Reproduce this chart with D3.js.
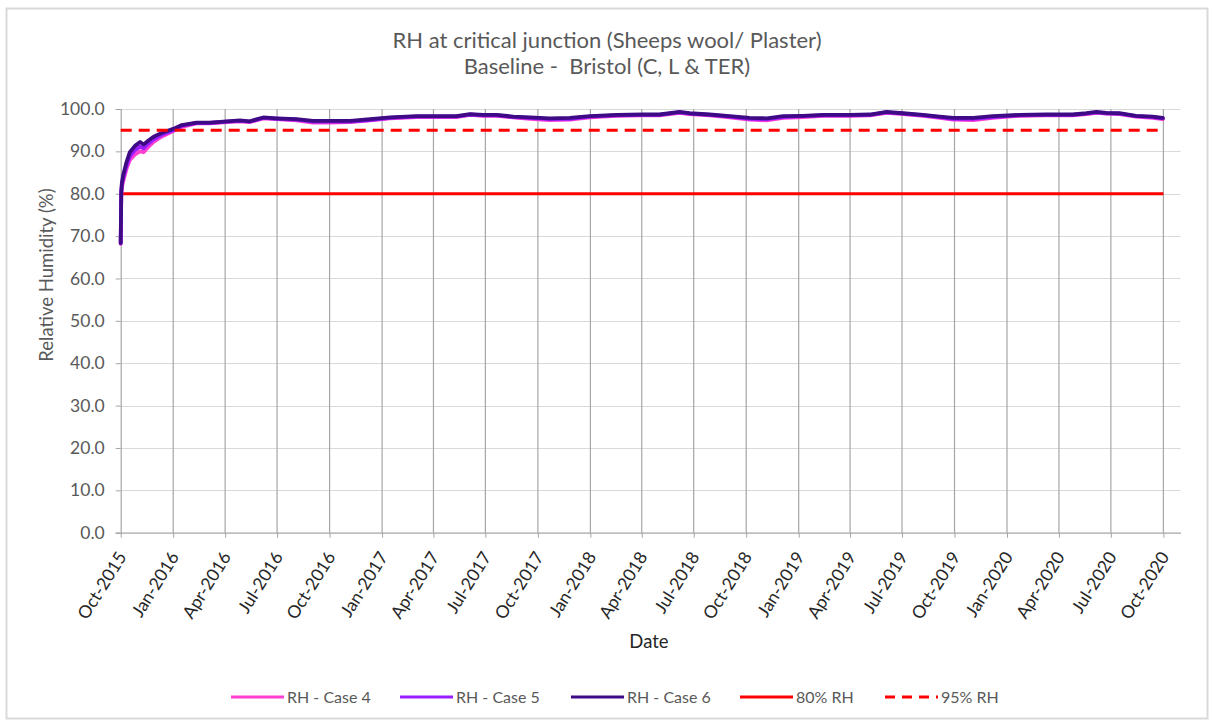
<!DOCTYPE html>
<html>
<head>
<meta charset="utf-8">
<script src="https://cdn.jsdelivr.net/npm/d3@7"></script>
<style>
  html, body { margin: 0; padding: 0; background: #fff; }
  svg { display: block; font-family: Lato, "Open Sans", sans-serif; }
</style>
</head>
<body>
<svg id="chart" width="1212" height="722"></svg>
<script>
// ---------- DATA ----------
const titleLines = ["RH at critical junction (Sheeps wool/ Plaster)", "Baseline -  Bristol (C, L & TER)"];
const startDate = "2015-10-01";
const endDate = "2020-10-31";
// days since 1 Oct 2015
const dayOffsets = [0, 1, 2, 4.5, 10, 16, 25, 34, 40, 48, 57, 66, 75, 92, 107, 120, 133, 156, 186, 209, 226, 250, 273, 308, 337, 367, 402, 437, 472, 518, 553, 588, 612, 635, 659, 688, 717, 752, 787, 822, 869, 915, 944, 979, 997, 1032, 1067, 1102, 1132, 1161, 1195, 1231, 1277, 1313, 1342, 1371, 1406, 1435, 1459, 1494, 1528, 1575, 1622, 1668, 1692, 1710, 1727, 1750, 1779, 1808, 1826];
const rhCase4 = [68.2, 79.8, 81.5, 83.0, 85.8, 88.0, 89.3, 90.0, 89.8, 91.0, 92.2, 93.0, 93.7, 94.8, 95.8, 96.2, 96.6, 96.6, 96.9, 97.1, 96.9, 97.8, 97.6, 97.3, 96.8, 96.8, 96.9, 97.3, 97.8, 98.1, 98.1, 98.1, 98.6, 98.4, 98.4, 98.0, 97.7, 97.4, 97.5, 98.0, 98.4, 98.5, 98.5, 99.1, 98.8, 98.5, 98.0, 97.5, 97.3, 97.9, 98.1, 98.4, 98.4, 98.5, 99.1, 98.8, 98.4, 97.9, 97.5, 97.4, 97.9, 98.4, 98.5, 98.5, 98.8, 99.1, 98.9, 98.8, 98.2, 97.9, 97.6];
const rhCase5 = [68.3, 80.2, 82.0, 83.8, 86.6, 88.9, 90.3, 91.1, 90.7, 91.8, 92.8, 93.5, 94.1, 95.0, 96.0, 96.4, 96.7, 96.7, 97.0, 97.2, 97.0, 97.9, 97.7, 97.5, 97.0, 97.0, 97.0, 97.4, 97.9, 98.2, 98.2, 98.2, 98.7, 98.5, 98.5, 98.1, 97.9, 97.6, 97.7, 98.2, 98.5, 98.6, 98.6, 99.2, 98.9, 98.6, 98.2, 97.7, 97.6, 98.1, 98.3, 98.5, 98.5, 98.6, 99.2, 98.9, 98.5, 98.1, 97.7, 97.7, 98.1, 98.5, 98.6, 98.6, 98.9, 99.2, 99.0, 98.9, 98.3, 98.1, 97.8];
const rhCase6 = [68.4, 80.5, 82.5, 84.5, 87.4, 89.8, 91.3, 92.2, 91.6, 92.5, 93.4, 94.0, 94.5, 95.3, 96.2, 96.5, 96.8, 96.8, 97.1, 97.3, 97.1, 98.0, 97.8, 97.6, 97.2, 97.2, 97.2, 97.6, 98.0, 98.3, 98.3, 98.3, 98.8, 98.6, 98.6, 98.2, 98.0, 97.8, 97.9, 98.3, 98.6, 98.7, 98.7, 99.3, 99.0, 98.7, 98.3, 97.9, 97.8, 98.3, 98.4, 98.6, 98.6, 98.7, 99.3, 99.0, 98.6, 98.2, 97.9, 97.9, 98.3, 98.6, 98.7, 98.7, 99.0, 99.3, 99.1, 99.0, 98.4, 98.2, 97.9];
const limit80 = 80;
const limit95 = 95;
const yTickValues = [0, 10, 20, 30, 40, 50, 60, 70, 80, 90, 100];
const xTickLabels = ["Oct-2015","Jan-2016","Apr-2016","Jul-2016","Oct-2016","Jan-2017","Apr-2017","Jul-2017","Oct-2017","Jan-2018","Apr-2018","Jul-2018","Oct-2018","Jan-2019","Apr-2019","Jul-2019","Oct-2019","Jan-2020","Apr-2020","Jul-2020","Oct-2020"];
const seriesNames = ["RH - Case 4", "RH - Case 5", "RH - Case 6", "80% RH", "95% RH"];
const seriesColors = ["#ff3fd2", "#9a1cff", "#3f0a86", "#ff0000", "#ff0000"];

// ---------- LAYOUT ----------
const svg = d3.select("#chart");
const plot = { left: 120.7, right: 1180.5, top: 109, bottom: 532.7 };
const parse = d3.timeParse("%Y-%m-%d");
const t0 = parse(startDate);

const x = d3.scaleTime().domain([t0, parse(endDate)]).range([plot.left, plot.right]);
const y = d3.scaleLinear().domain([0, 100]).range([plot.bottom, plot.top]);

// outer border
svg.append("rect").attr("x", 6.5).attr("y", 8.5).attr("width", 1201).attr("height", 710)
  .attr("fill", "#fff").attr("stroke", "#d9d9d9").attr("stroke-width", 2);

// title
svg.append("text").attr("x", 607).attr("y", 48).attr("text-anchor", "middle")
  .attr("font-size", 22).attr("fill", "#595959").text(titleLines[0]);
svg.append("text").attr("x", 607).attr("y", 74).attr("text-anchor", "middle")
  .attr("font-size", 22).attr("fill", "#595959").style("white-space", "pre").text(titleLines[1]);

// horizontal gridlines
svg.append("g").selectAll("line").data(yTickValues.filter(v => v > 0)).join("line")
  .attr("x1", plot.left).attr("x2", plot.right)
  .attr("y1", d => Math.round(y(d)) + 0.5).attr("y2", d => Math.round(y(d)) + 0.5)
  .attr("stroke", "#d9d9d9").attr("stroke-width", 1);

// x ticks (quarterly)
const xTickDates = xTickLabels.map(s => d3.timeParse("%b-%Y")(s));
svg.append("g").selectAll("line").data(xTickDates.slice(1)).join("line")
  .attr("x1", d => x(d)).attr("x2", d => x(d))
  .attr("y1", plot.top).attr("y2", plot.bottom)
  .attr("stroke", "#a6a6a6").attr("stroke-width", 1.2);

// y axis
const yAxis = svg.append("g").attr("transform", `translate(${plot.left},0)`)
  .call(d3.axisLeft(y).tickValues(yTickValues).tickFormat(d3.format(".1f")).tickSize(5).tickPadding(11));
yAxis.select(".domain").attr("stroke", "#a6a6a6").attr("stroke-width", 1.2);
yAxis.selectAll(".tick line").attr("stroke", "#a6a6a6");
yAxis.selectAll("text").attr("font-size", 17.5).attr("fill", "#595959").attr("font-family", "Lato, sans-serif");

// x axis
const xAxis = svg.append("g").attr("transform", `translate(0,${plot.bottom})`)
  .call(d3.axisBottom(x).tickValues(xTickDates).tickFormat(d3.timeFormat("%b-%Y")).tickSize(5).tickSizeOuter(0));
xAxis.select(".domain").attr("stroke", "#a6a6a6").attr("stroke-width", 1.2);
xAxis.selectAll(".tick line").attr("stroke", "#a6a6a6");
xAxis.selectAll("text")
  .attr("font-size", 17.5).attr("fill", "#262626").attr("font-family", "Lato, sans-serif")
  .attr("text-anchor", "end").attr("dy", null).attr("y", 0)
  .attr("transform", "translate(6,24) rotate(-58)");

// axis titles
svg.append("text").attr("transform", "translate(53,275) rotate(-90)")
  .attr("text-anchor", "middle").attr("font-size", 18.5).attr("fill", "#595959").text("Relative Humidity (%)");
svg.append("text").attr("x", 649).attr("y", 648).attr("text-anchor", "middle")
  .attr("font-size", 18.5).attr("fill", "#262626").text("Date");

// reference lines
svg.append("line").attr("x1", plot.left).attr("x2", x(parse("2020-10-01")))
  .attr("y1", y(limit80)).attr("y2", y(limit80))
  .attr("stroke", seriesColors[3]).attr("stroke-width", 3);

// series
const line = d3.line().x(d => x(d[0])).y(d => y(d[1]));
const seriesData = [rhCase4, rhCase5, rhCase6].map(vals =>
  dayOffsets.map((dd, i) => [d3.timeHour.offset(t0, Math.round(dd * 24)), vals[i]]));
seriesData.forEach((pts, i) => {
  svg.append("path").datum(pts).attr("d", line).attr("fill", "none")
    .attr("stroke", seriesColors[i]).attr("stroke-width", 3.8)
    .attr("stroke-linejoin", "round").attr("stroke-linecap", "round");
});

svg.append("line").attr("x1", plot.left).attr("x2", x(parse("2020-10-01")))
  .attr("y1", y(limit95)).attr("y2", y(limit95))
  .attr("stroke", seriesColors[4]).attr("stroke-width", 3).attr("stroke-dasharray", "11,7");

// legend
const legendX = [231, 400, 571, 740, 885];
const lg = svg.append("g");
seriesNames.forEach((name, i) => {
  lg.append("line").attr("x1", legendX[i]).attr("x2", legendX[i] + 53)
    .attr("y1", 697).attr("y2", 697).attr("stroke", seriesColors[i]).attr("stroke-width", 3)
    .attr("stroke-dasharray", i === 4 ? "10,7" : null);
  lg.append("text").attr("x", legendX[i] + 56).attr("y", 703)
    .attr("font-size", 16).attr("fill", "#595959").text(name);
});
</script>
</body>
</html>
